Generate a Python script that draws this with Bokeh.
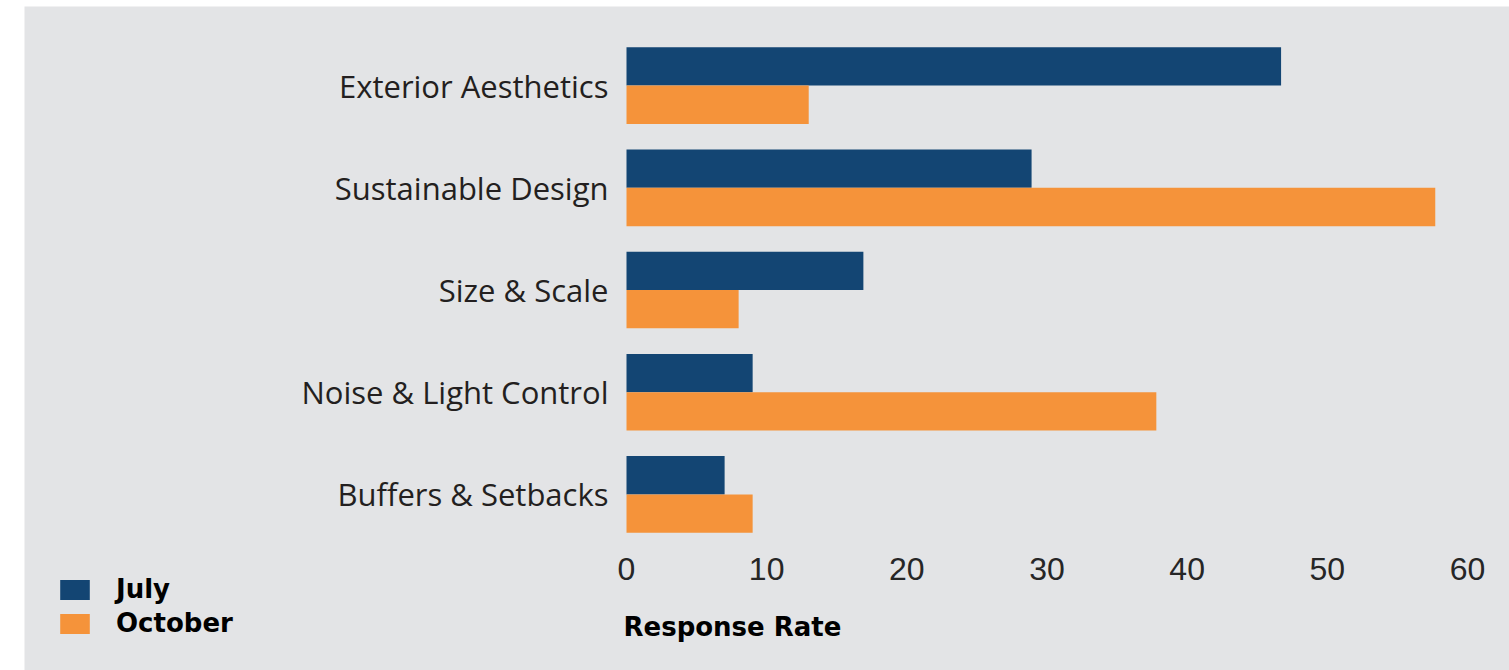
from bokeh.plotting import figure
from bokeh.models import Range1d, Legend, LegendItem, Label, FixedTicker, Spacer, ColumnDataSource
from bokeh.layouts import column, row
from bokeh.transform import dodge
from bokeh.embed import file_html
from bokeh.resources import INLINE

categories = ["Exterior Aesthetics", "Sustainable Design", "Size & Scale",
              "Noise & Light Control", "Buffers & Setbacks"]
july = [46.7, 28.9, 16.9, 9.0, 7.0]
october = [13.0, 57.7, 8.0, 37.8, 9.0]
x_ticks = [0, 10, 20, 30, 40, 50, 60]
series_names = ["July", "October"]

NAVY = "#134573"
ORANGE = "#f5933a"
BG = "#e3e4e6"

n = len(categories)
ypos = [n - i - 0.5 for i in range(n)]   # category slots, top to bottom
src = ColumnDataSource(dict(y=ypos, cat=categories, july=july, october=october))

# layout geometry (pixels)
W, H = 1485, 664
LEFT, PLOT_W = 602, 841          # x=0 at LEFT px, x=60 at LEFT+PLOT_W
TOP, PLOT_H = 28, 511            # categories span TOP..TOP+PLOT_H
px = PLOT_W / (x_ticks[-1] - x_ticks[0])
py = PLOT_H / n

p = figure(width=W, height=H, output_backend="svg", toolbar_location=None,
           x_range=Range1d(-LEFT / px, (W - LEFT) / px),
           y_range=Range1d(-(H - TOP - PLOT_H) / py, n + TOP / py),
           min_border=0, min_border_left=0, min_border_right=0,
           min_border_top=0, min_border_bottom=0)
p.background_fill_color = BG
p.border_fill_color = BG
p.outline_line_color = None

r1 = p.hbar(y=dodge("y", 0.1875), right="july", left=0, height=0.375,
            source=src, fill_color=NAVY, line_color=None)
r2 = p.hbar(y=dodge("y", -0.1875), right="october", left=0, height=0.375,
            source=src, fill_color=ORANGE, line_color=None)

p.xgrid.visible = False
p.ygrid.visible = False

for ax in (p.xaxis[0], p.yaxis[0]):
    ax.axis_line_color = None
    ax.major_tick_line_color = None
    ax.minor_tick_line_color = None
    ax.major_tick_out = 0
    ax.major_tick_in = 0
    ax.fixed_location = 0

p.yaxis.ticker = FixedTicker(ticks=ypos)
p.yaxis.major_label_overrides = {y: c for y, c in zip(ypos, categories)}
p.yaxis.major_label_text_font = "Open Sans"
p.yaxis.major_label_text_font_size = "31px"
p.yaxis.major_label_text_color = "#231f20"
p.yaxis.major_label_standoff = 18

p.xaxis.ticker = FixedTicker(ticks=x_ticks)
p.xaxis.major_label_text_font = "Liberation Sans"
p.xaxis.major_label_text_font_size = "32px"
p.xaxis.major_label_text_color = "#262626"
p.xaxis.major_label_standoff = 12

lab = Label(x=0, y=0, x_units="data", y_units="data", x_offset=-3, y_offset=-81,
            text="Response Rate", text_font="DejaVu Sans", text_font_style="bold",
            text_font_size="26px", text_color="#000000", text_baseline="alphabetic")
p.add_layout(lab)

legend = Legend(items=[LegendItem(label=series_names[0], renderers=[r1]),
                       LegendItem(label=series_names[1], renderers=[r2])],
                location=(32, 32), orientation="vertical",
                glyph_width=37, glyph_height=25, label_standoff=23, spacing=4,
                padding=0, margin=0, border_line_color=None, background_fill_alpha=0,
                label_text_font="DejaVu Sans", label_text_font_style="bold",
                label_text_font_size="26px", label_text_color="#000000")
p.add_layout(legend, "center")

layout = column(Spacer(height=6), row(Spacer(width=24), p, spacing=0), spacing=0)

open("out.html", "w").write(file_html(layout, INLINE))
